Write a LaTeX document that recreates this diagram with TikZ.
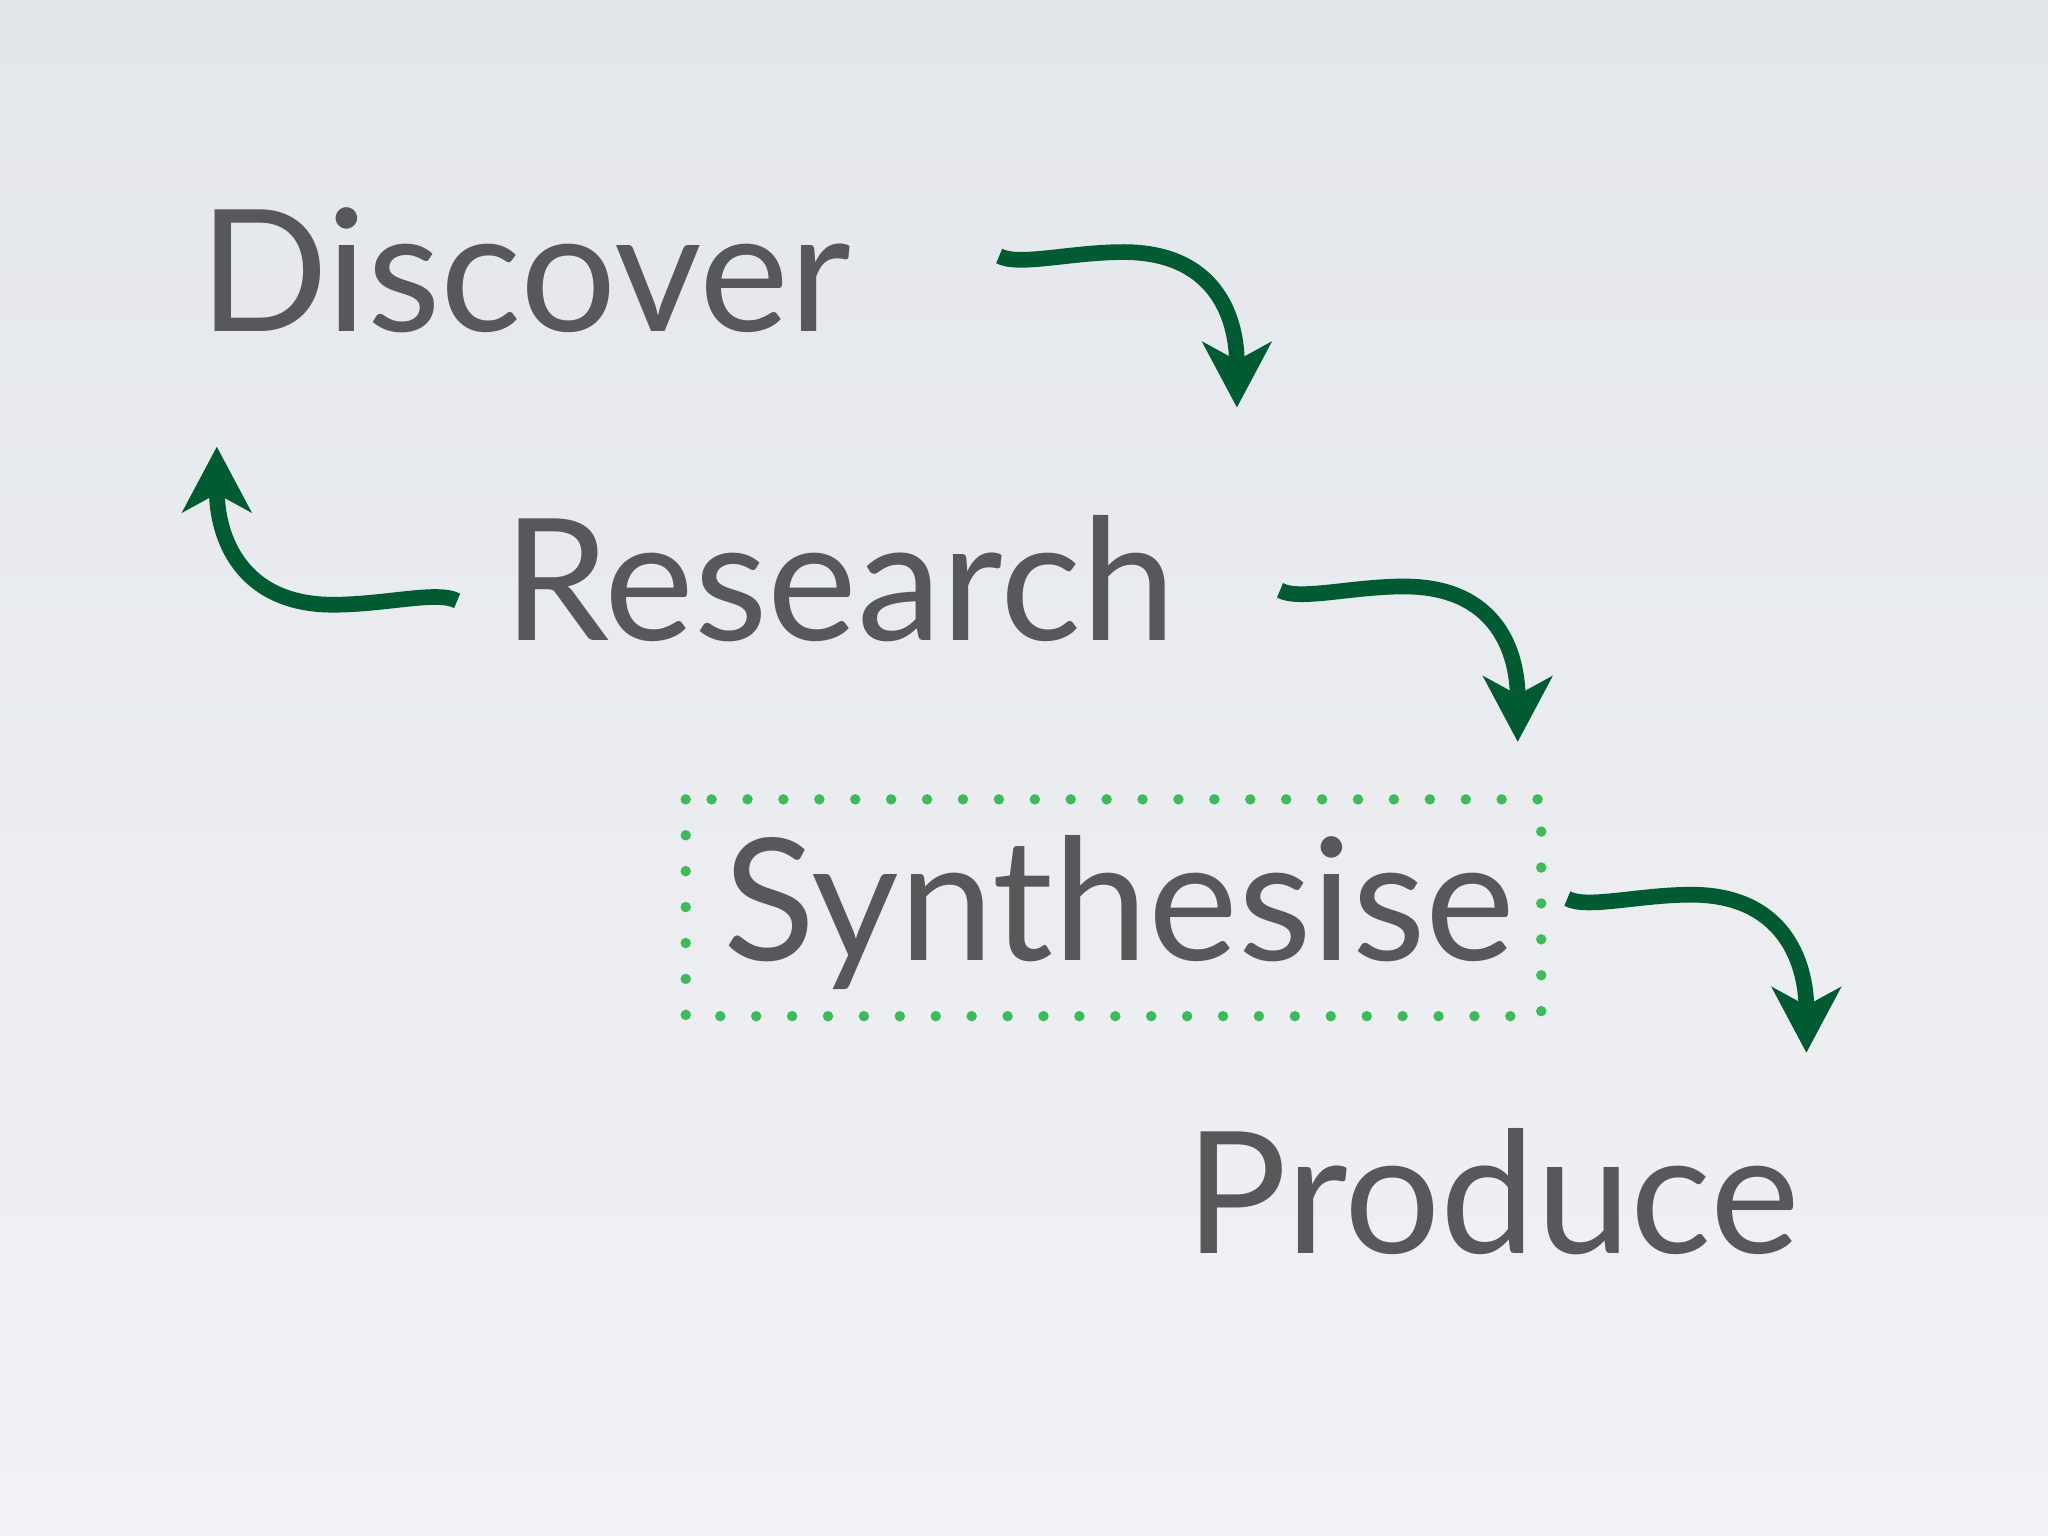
\documentclass[tikz,border=0pt]{standalone}
\usepackage{fontspec}
\setmainfont{Lato}
\usetikzlibrary{arrows.meta,calc}
\definecolor{bgtop}{HTML}{E3E6EB}
\definecolor{bgbot}{HTML}{F1F2F5}
\definecolor{txt}{HTML}{58585A}
\definecolor{arr}{HTML}{005A32}
\definecolor{dotg}{HTML}{3DBB5A}
\tikzset{
  word/.style={text=txt,font=\fontsize{74}{78}\selectfont,inner sep=0pt,anchor=base},
  flow/.style={draw=arr,line width=0.24cm,-{Stealth[length=1.0cm,width=1.05cm,inset=0.28cm]}},
  dotbox/.style={draw=dotg,line width=0.16cm,line cap=round,dash pattern=on 0pt off 0.55cm}
}
\begin{document}
\begin{tikzpicture}[x=0.02cm,y=-0.02cm]
\shade[top color=bgtop,bottom color=bgbot] (0,0) rectangle (1568,1176);
\useasboundingbox (0,0) rectangle (1568,1176);
\node[word] (discover) at (402,254) {Discover};
\node[word] (research) at (643,490) {Research};
\node[word] (synth) at (857,735) {Synthesise};
\node[word] (produce) at (1143,960) {Produce};
\draw[dotbox] (525,612) rectangle (1180,778);
\coordinate (a1) at (765,196); \coordinate (a1e) at (947,312);
\coordinate (a2) at (980,452); \coordinate (a2e) at (1162,568);
\coordinate (a3) at (1200,688); \coordinate (a3e) at (1383,806);
\coordinate (a4) at (350,460); \coordinate (a4e) at (166,342);
\foreach \s/\e in {a1/a1e,a2/a2e,a3/a3e}{
  \draw[flow] (\s) .. controls ++(15,8) and ++(-40,0) .. ($(\s)+(95,-3)$) .. controls ++(70,0) and ++(0,-70) .. (\e);
}
\draw[flow] (a4) .. controls ++(-15,-8) and ++(40,0) .. ($(a4)+(-95,3)$) .. controls ++(-70,0) and ++(0,70) .. (a4e);
\end{tikzpicture}
\end{document}
